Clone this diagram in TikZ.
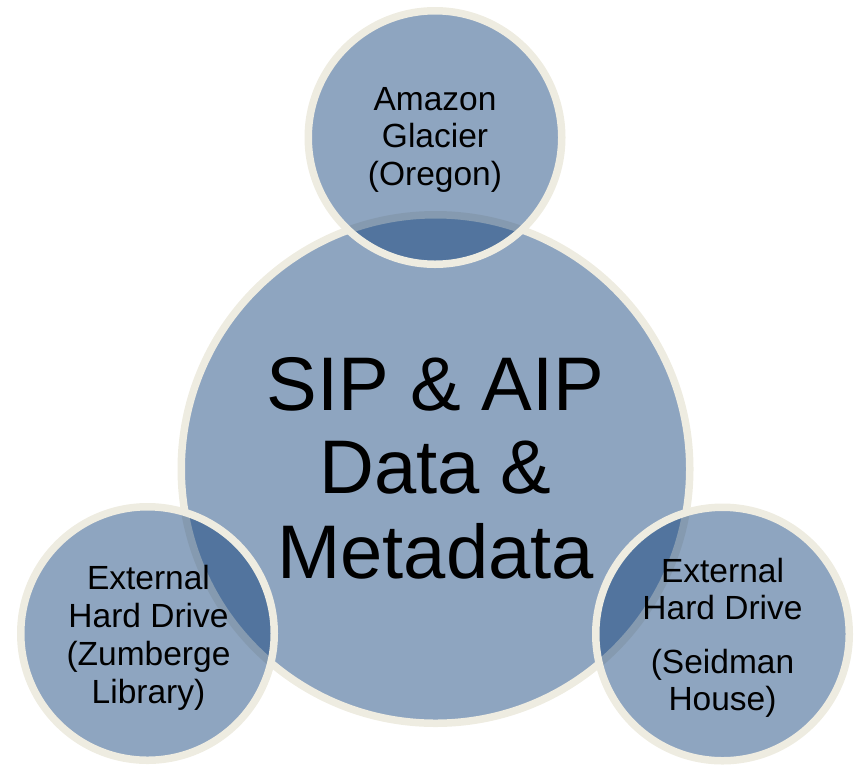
\documentclass[tikz,border=0pt]{standalone}
\usepackage{fontspec}
\setmainfont{Liberation Sans}
\definecolor{ringfill}{RGB}{15,63,121}
\definecolor{ringedge}{RGB}{238,236,225}
\begin{document}
\begin{tikzpicture}[x=1pt,y=-1pt,
  ring/.style={circle, draw=ringedge, line width=7.5pt, fill=ringfill,
    fill opacity=0.47, inner sep=0pt, outer sep=0pt},
  bigtxt/.style={anchor=base, inner sep=0pt, font=\fontsize{76}{84}\selectfont},
  smalltxt/.style={anchor=base, inner sep=0pt, font=\fontsize{33.5}{38}\selectfont}]
\useasboundingbox (0,0) rectangle (858,764);

% central store and the three copies around it
\node[ring, minimum size=508.5pt] (core) at (435.5,469) {};
\node[ring, minimum size=253.5pt] (glacier) at (435,137.5) {};
\node[ring, minimum size=253.5pt] (zumberge) at (147.5,633.5) {};
\node[ring, minimum size=253.5pt] (seidman) at (722.5,634) {};

% central label
\node[bigtxt] (core1) at (435.5,410) {SIP \& AIP};
\node[bigtxt] (core2) at (435.5,493) {Data \&};
\node[bigtxt] (core3) at (435.5,578) {Metadata};

% top copy
\node[smalltxt] (gl1) at (435,110) {Amazon};
\node[smalltxt] (gl2) at (435,147) {Glacier};
\node[smalltxt] (gl3) at (435,185) {(Oregon)};

% lower left copy
\node[smalltxt] (zu1) at (148.5,589) {External};
\node[smalltxt] (zu2) at (148.5,627) {Hard Drive};
\node[smalltxt] (zu3) at (148.5,665) {(Zumberge};
\node[smalltxt] (zu4) at (148.5,703) {Library)};

% lower right copy
\node[smalltxt] (se1) at (722.5,582) {External};
\node[smalltxt] (se2) at (722.5,619) {Hard Drive};
\node[smalltxt] (se3) at (722.5,673) {(Seidman};
\node[smalltxt] (se4) at (722.5,710) {House)};
\end{tikzpicture}
\end{document}
